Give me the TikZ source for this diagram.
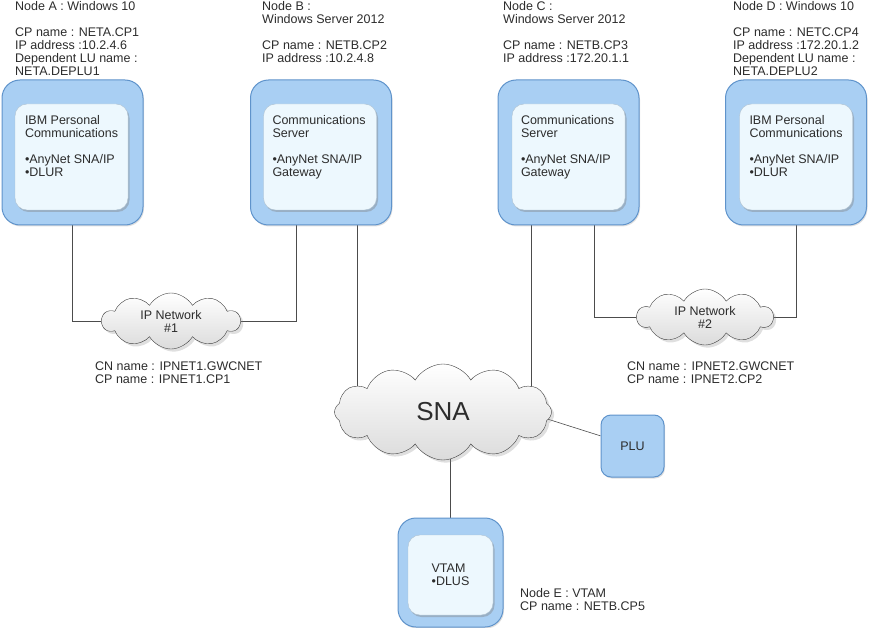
\documentclass[tikz,border=0pt]{standalone}
\usepackage{fontspec}
\setmainfont{Liberation Sans}
\usetikzlibrary{shapes.symbols,shadows,backgrounds,calc}
\definecolor{boxblue}{HTML}{A9CFF3}
\definecolor{boxline}{HTML}{5F93CB}
\definecolor{paneblue}{HTML}{EDF8FE}
\definecolor{paneline}{HTML}{B0C2D0}
\definecolor{inkgray}{HTML}{2C2C2C}
\tikzset{
  hostbox/.style={draw=boxline,line width=1pt,fill=boxblue,rounded corners=18pt,
    minimum width=141pt,minimum height=145pt,
    drop shadow={opacity=0.25,shadow xshift=1pt,shadow yshift=-1.5pt}},
  pane/.style={draw=paneline,fill=paneblue,rounded corners=12pt,
    minimum width=113pt,minimum height=106pt,text=inkgray,align=left,
    font=\fontsize{12.5}{13}\selectfont,
    drop shadow={opacity=0.4,shadow xshift=1.5pt,shadow yshift=-2pt}},
  lbl/.style={anchor=north west,align=left,inner sep=0pt,text=inkgray,
    font=\fontsize{12.5}{13}\selectfont},
  netcloud/.style={cloud,cloud puffs=10,cloud puff arc=120,aspect=2.4,
    draw=black!75,top color=white,bottom color=black!14,
    drop shadow={opacity=0.25},text=inkgray,align=center,
    font=\fontsize{12.5}{13}\selectfont},
  wire/.style={draw=black!70,line width=0.6pt}
}
\begin{document}
\begin{tikzpicture}[x=1pt,y=-1pt]
\useasboundingbox (0,0) rectangle (869,628);
% host boxes
\node[hostbox] (hostA) at (72.5,152.5) {};
\node[pane] (paneA) at (71.5,157) {};
\node[lbl] (swA) at ($(paneA.north west)+(10,11)$) {IBM Personal\\Communications\\[13pt]•AnyNet SNA/IP\\•DLUR};
\node[hostbox] (hostB) at (321,152.5) {};
\node[pane] (paneB) at (320,157) {};
\node[lbl] (swB) at ($(paneB.north west)+(9,11)$) {Communications\\Server\\[13pt]•AnyNet SNA/IP\\Gateway};
\node[hostbox] (hostC) at (568.5,152.5) {};
\node[pane] (paneC) at (568.5,157) {};
\node[lbl] (swC) at ($(paneC.north west)+(9,11)$) {Communications\\Server\\[13pt]•AnyNet SNA/IP\\Gateway};
\node[hostbox] (hostD) at (796,152.5) {};
\node[pane] (paneD) at (796,157) {};
\node[lbl] (swD) at ($(paneD.north west)+(10,11)$) {IBM Personal\\Communications\\[13pt]•AnyNet SNA/IP\\•DLUR};
\node[hostbox,minimum width=105pt,minimum height=109pt] (hostE) at (450.5,572.5) {};
\node[pane,minimum width=85pt,minimum height=80pt] (paneE) at (450.5,575) {VTAM\\•DLUS};
\node[hostbox,rounded corners=10pt,minimum width=63pt,minimum height=62pt,
  text=inkgray,font=\fontsize{12.5}{13}\selectfont] (plu) at (632.5,446) {PLU};

% node labels
\node[lbl] (infoA) at (15,1) {Node A : Windows 10\\[13pt]CP name : NETA.CP1\\IP address :10.2.4.6\\Dependent LU name :\\NETA.DEPLU1};
\node[lbl] (infoB) at (262,1) {Node B :\\Windows Server 2012\\[13pt]CP name : NETB.CP2\\IP address :10.2.4.8};
\node[lbl] (infoC) at (503,1) {Node C :\\Windows Server 2012\\[13pt]CP name : NETB.CP3\\IP address :172.20.1.1};
\node[lbl] (infoD) at (733,1) {Node D : Windows 10\\[13pt]CP name : NETC.CP4\\IP address :172.20.1.2\\Dependent LU name :\\NETA.DEPLU2};
\node[lbl] (infoE) at (520,588) {Node E : VTAM\\CP name : NETB.CP5};

% networks
\node[netcloud,minimum width=138pt,minimum height=56pt] (net1) at (171,321) {IP Network\\\#1};
\node[netcloud,minimum width=136pt,minimum height=56pt] (net2) at (705,317) {IP Network\\\#2};
\node[netcloud,cloud puffs=12,minimum width=217pt,minimum height=96pt,
  font=\fontsize{26}{28}\selectfont] (sna) at (443,412) {SNA};
\node[lbl] (net1info) at (95,362) {CN name : IPNET1.GWCNET\\CP name : IPNET1.CP1};
\node[lbl] (net2info) at (627,362) {CN name : IPNET2.GWCNET\\CP name : IPNET2.CP2};

\begin{scope}[on background layer]
\draw[wire] (hostA) |- (net1);
\draw[wire] (net1) -| ([xshift=-25pt]hostB.south);
\draw[wire] ([xshift=36pt]hostB.south) -- ([xshift=36pt]hostB.south |- sna);
\draw[wire] ([xshift=-37.5pt]hostC.south) -- ([xshift=-37.5pt]hostC.south |- sna);
\draw[wire] ([xshift=25.5pt]hostC.south) |- (net2);
\draw[wire] (net2) -| (hostD);
\draw[wire] (plu) -- ($(sna)+(57,-8)$);
\draw[wire] (hostE) -- (hostE |- sna);
\end{scope}
\end{tikzpicture}
\end{document}
